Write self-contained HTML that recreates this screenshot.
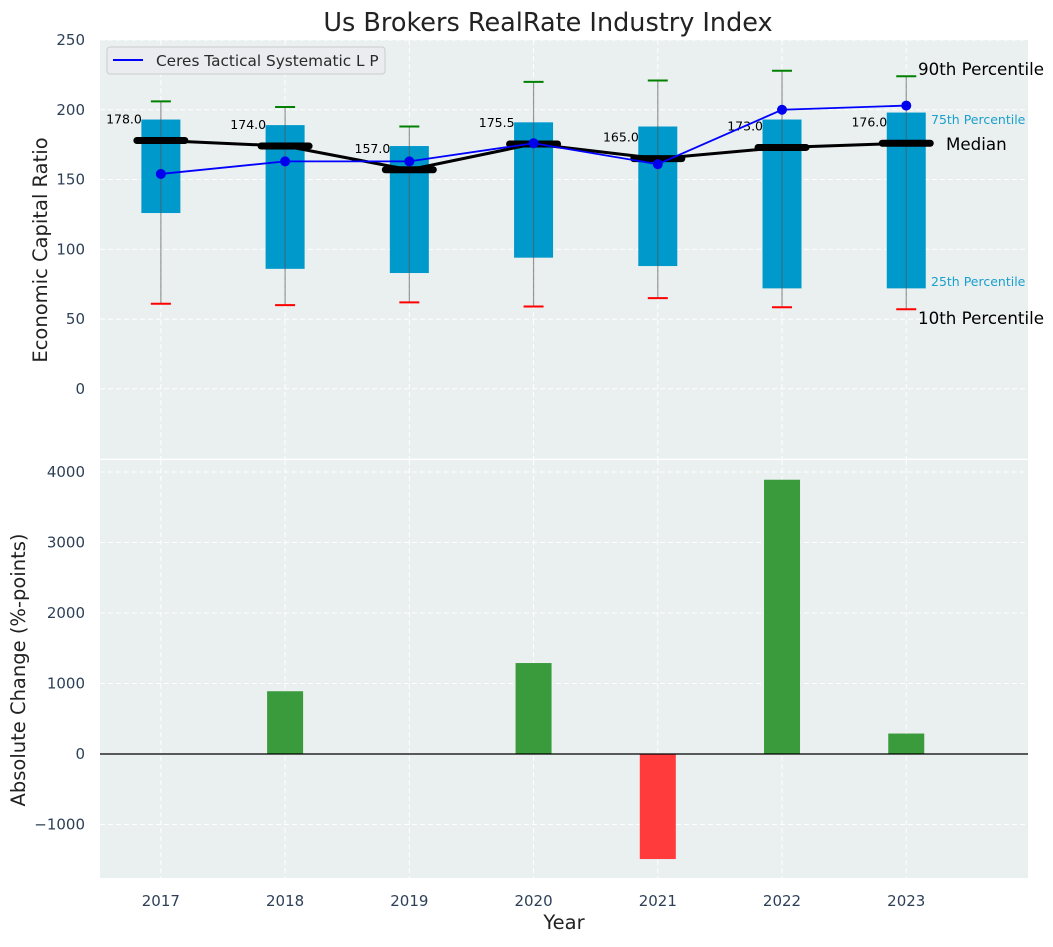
<!DOCTYPE html>
<html><head><meta charset="utf-8"><style>
body{margin:0;background:#fff;}
svg text{font-family:"DejaVu Sans","Liberation Sans",sans-serif;}
</style></head><body>
<svg id="c" width="1053" height="942" xmlns="http://www.w3.org/2000/svg"></svg>
<script>
const years=["2017","2018","2019","2020","2021","2022","2023"];
const p90=[206,202,188,220,221,228,224];
const q75=[193,189,174,191,188,193,198];
const medians=[178,174,157,175.5,165,173,176];
const q25=[126,86,83,94,88,72,72];
const p10=[61,60,62,59,65,58.5,57];
const company=[154,163,163,176,161,200,203];
const changes=[0,890,0,1290,-1490,3890,290];
const yTicks1=[0,50,100,150,200,250];
const yTicks2=[-1000,0,1000,2000,3000,4000];

const NS="http://www.w3.org/2000/svg";
const svg=document.getElementById('c');
function el(t,a,p){const e=document.createElementNS(NS,t);for(const k in a)e.setAttribute(k,a[k]);(p||svg).appendChild(e);return e;}
const L=100,R=1028;
const x=i=>L+(i+0.49)*(R-L)/7.47;
const T1=40,B1=458.6,y1=v=>B1-(v+50)*(B1-T1)/300;
const T2=460,B2=878,y2=v=>B2-(v+1759)*(B2-T2)/(4170+1759);

let e;
e=el('rect',{x:L,y:T1,width:R-L,height:B1-T1,fill:'#eaeff0'});

e=el('rect',{x:L,y:T2,width:R-L,height:B2-T2,fill:'#eaeff0'});

years.forEach((yr,i)=>{
 el('line',{x1:x(i),x2:x(i),y1:T1,y2:B1,stroke:'#fff','stroke-dasharray':'5,3','stroke-width':1});
 el('line',{x1:x(i),x2:x(i),y1:T2,y2:B2,stroke:'#fff','stroke-dasharray':'5,3','stroke-width':1});
 e=el('text',{x:x(i),y:906,'text-anchor':'middle','font-size':15,fill:'#2e4057'});e.textContent=yr;
 
});
yTicks1.forEach(v=>{
 el('line',{x1:L,x2:R,y1:y1(v),y2:y1(v),stroke:'#fff','stroke-dasharray':'5,3'});
 e=el('text',{x:85,y:y1(v)+5,'text-anchor':'end','font-size':15,fill:'#2e4057'});e.textContent=v;
 
});
yTicks2.forEach(v=>{
 el('line',{x1:L,x2:R,y1:y2(v),y2:y2(v),stroke:'#fff','stroke-dasharray':'5,3'});
 e=el('text',{x:85,y:y2(v)+5,'text-anchor':'end','font-size':15,fill:'#2e4057'});e.textContent=(v<0?'\u2212'+(-v):v);
 
});
const bw=19.5;
years.forEach((yr,i)=>{
 const cx=x(i);
 e=el('rect',{x:cx-bw,y:y1(q75[i]),width:2*bw,height:y1(q25[i])-y1(q75[i]),fill:'#0099cc'});
 
 el('line',{x1:cx,x2:cx,y1:y1(p90[i]),y2:y1(p10[i]),stroke:'#555','stroke-opacity':0.6,'stroke-width':1.2});
 e=el('line',{x1:cx-10,x2:cx+10,y1:y1(p90[i]),y2:y1(p90[i]),stroke:'#008000','stroke-width':2});
 
 e=el('line',{x1:cx-10,x2:cx+10,y1:y1(p10[i]),y2:y1(p10[i]),stroke:'#ff0000','stroke-width':2});
 
});
e=el('polyline',{points:medians.map((m,i)=>x(i)+','+y1(m)).join(' '),fill:'none',stroke:'#000','stroke-width':3});

medians.forEach((m,i)=>{
 e=el('line',{x1:x(i)-24,x2:x(i)+24,y1:y1(m),y2:y1(m),stroke:'#000','stroke-width':7,'stroke-linecap':'round'});
 
 e=el('text',{x:x(i)-19,y:y1(m+15)+4,'text-anchor':'end','font-size':12.5,fill:'#000'});e.textContent=m.toFixed(1);
 
});
e=el('polyline',{points:company.map((v,i)=>x(i)+','+y1(v)).join(' '),fill:'none',stroke:'#0000ff','stroke-width':1.8});

company.forEach((v,i)=>{e=el('circle',{cx:x(i),cy:y1(v),r:5,fill:'#0000ee'});
 });
const ann=[["90th Percentile",918,75,16.7,'#000'],["75th Percentile",931,124,12.5,'#1aa0cc'],["Median",946,150,16.7,'#000'],["25th Percentile",931,286,12.5,'#1aa0cc'],["10th Percentile",918,324,16.7,'#000']];
ann.forEach(a=>{e=el('text',{x:a[1],y:a[2],'font-size':a[3],fill:a[4]});e.textContent=a[0];
 });
const lg=el('g',{});
el('rect',{x:107,y:47,width:278,height:27,rx:3,fill:'#eaecf0',stroke:'#ccc'},lg);
el('line',{x1:113,x2:143,y1:60,y2:60,stroke:'#0000ff','stroke-width':2},lg);
e=el('text',{x:156,y:66,'font-size':15.3,fill:'#2a2a2a'},lg);e.textContent='Ceres Tactical Systematic L P';
changes.forEach((v,i)=>{
 const top=Math.min(y2(v),y2(0)),h=Math.abs(y2(v)-y2(0));
 e=el('rect',{x:x(i)-18,y:top,width:36,height:h,fill:v>=0?'#3a9b3c':'#ff3b3b'});
 
});
el('line',{x1:L,x2:R,y1:y2(0),y2:y2(0),stroke:'#000','stroke-width':1.2});
e=el('text',{x:548,y:31,'text-anchor':'middle','font-size':25.5,fill:'#222'});e.textContent='Us Brokers RealRate Industry Index';

e=el('text',{x:0,y:0,'text-anchor':'middle','font-size':19.5,fill:'#222',transform:'translate(47,250) rotate(-90)'});e.textContent='Economic Capital Ratio';

e=el('text',{x:0,y:0,'text-anchor':'middle','font-size':19.5,fill:'#222',transform:'translate(25,670) rotate(-90)'});e.textContent='Absolute Change (%-points)';

e=el('text',{x:564,y:929,'text-anchor':'middle','font-size':19.5,fill:'#222'});e.textContent='Year';

</script>
</body></html>
